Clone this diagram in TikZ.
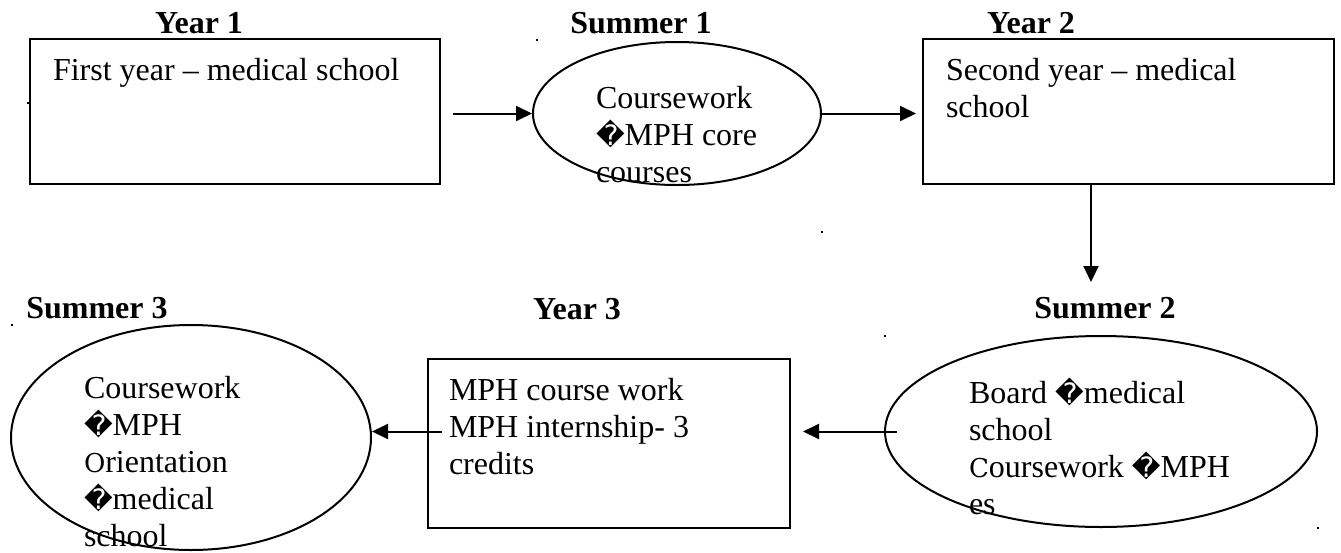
\documentclass[tikz,border=0pt]{standalone}
\usepackage{fontspec}
\setmainfont{Liberation Serif}
\newfontfamily\symfont{DejaVu Sans}
\newfontfamily\altfont{DejaVu Serif}
\usetikzlibrary{arrows.meta,shapes.geometric}
\newcommand\repl{{\symfont\fontsize{28}{37}\selectfont\char"FFFD}}
\newcommand\oddO{{\altfont\fontsize{26}{37}\selectfont O}}
\newcommand\oddC{{\altfont\fontsize{26}{37}\selectfont C}}

\begin{document}
\begin{tikzpicture}[x=1pt, y=-1pt, line width=2pt,
	font=\fontsize{32}{37}\selectfont,
	box/.style={draw, rectangle, inner sep=0pt},
	oval/.style={draw, ellipse, inner sep=0pt},
	head/.style={font=\fontsize{32}{37}\selectfont\bfseries, anchor=base, inner sep=0pt},
	txt/.style={anchor=base west, align=left, inner sep=0pt},
	arr/.style={-{Triangle[length=16pt, width=15pt]}}]
	\useasboundingbox (0,0) rectangle (1341,552);

	% Years and summers
	\node[box, minimum width=410pt, minimum height=145pt] (year1) at (235,111.5) {};
	\node[oval, minimum width=288pt, minimum height=143pt] (summer1) at (677,113.5) {};
	\node[box, minimum width=411pt, minimum height=145pt] (year2) at (1128.5,111.5) {};
	\node[oval, minimum width=432pt, minimum height=191pt] (summer2) at (1101,431.5) {};
	\node[box, minimum width=362pt, minimum height=169pt] (year3) at (609,443.5) {};
	\node[oval, minimum width=360pt, minimum height=225pt] (summer3) at (191,437.5) {};

	% Headings
	\node[head] (head-y1) at (199,33) {Year 1};
	\node[head] (head-s1) at (641,33) {Summer 1};
	\node[head] (head-y2) at (1031,33) {Year 2};
	\node[head] (head-s2) at (1105,318) {Summer 2};
	\node[head] (head-y3) at (577,319) {Year 3};
	\node[head] (head-s3) at (97,318) {Summer 3};

	% Contents (base = last line)
	\node[txt] (text-y1) at (52,80) {First year – medical school};
	\node[txt] (text-s1) at (595,182) {Coursework\\\repl MPH core\\courses};
	\node[txt] (text-y2) at (945,117) {Second year – medical\\school};
	\node[txt] (text-s2) at (968,514) {Board \repl medical\\school\\\oddC oursework \repl MPH\\es};
	\node[txt] (text-y3) at (448,474) {MPH course work\\MPH internship- 3\\credits};
	\node[txt] (text-s3) at (83,546) {Coursework\\\repl MPH\\\oddO rientation\\\repl medical\\school};

	% Arrows
	\coordinate (s2in) at (1091,282);
	\draw[arr] ([xshift=12pt]year1.east |- summer1.west) -- (summer1.west);
	\draw[arr] (summer1.east) -- ([xshift=-6pt]year2.west |- summer1.east);
	\draw[arr] (year2.south -| s2in) -- (s2in);
	\draw[arr] ([xshift=13pt]summer2.west) -- ([xshift=12pt]year3.east |- summer2.west);
	\draw[arr] ([xshift=15pt]year3.west |- summer2.west) -- (summer3.east |- summer2.west);

	% Stray dots
	\foreach \p in {(537,40),(28,103),(822,232),(885,336),(1318,528),(12,325)}
		\fill \p ++(-1,-1) rectangle ++(2,2);
\end{tikzpicture}
\end{document}
